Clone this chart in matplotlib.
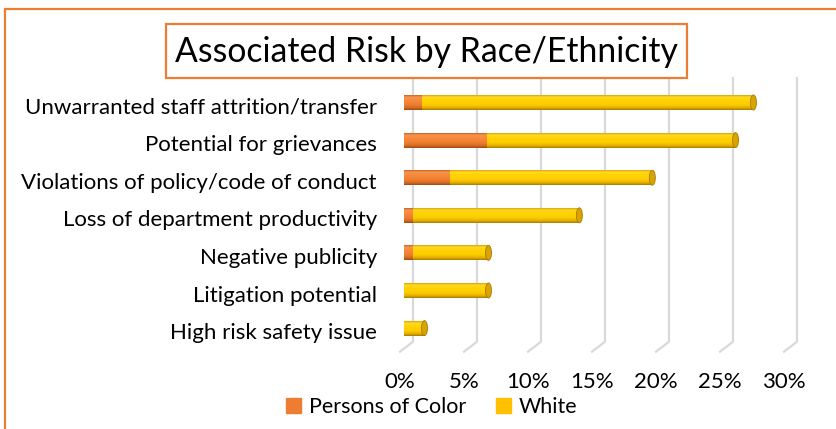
import numpy as np
import matplotlib.pyplot as plt
from matplotlib.patches import Rectangle, Ellipse
from matplotlib.colors import to_rgb

plt.rcParams['font.family'] = ['Lato', 'DejaVu Sans']

categories = [
    'Unwarranted staff attrition/transfer',
    'Potential for grievances',
    'Violations of policy/code of conduct',
    'Loss of department productivity',
    'Negative publicity',
    'Litigation potential',
    'High risk safety issue',
]
persons_of_color = [1.4, 6.5, 3.6, 0.7, 0.7, 0.0, 0.0]
white = [25.9, 19.4, 15.8, 13.0, 5.9, 6.6, 1.6]
ticks = [0, 5, 10, 15, 20, 25, 30]
tick_labels = ['0%', '5%', '10%', '15%', '20%', '25%', '30%']
series_names = ['Persons of Color', 'White']
title = 'Associated Risk by Race/Ethnicity'

ORANGE = '#ED7D31'
GOLD = '#FFC000'
GRID = '#D9D9D9'

# colour stops (top -> bottom) used to shade the cylinders
shade = {
    'orange': [(0.0, '#C96020'), (0.12, '#F8934A'), (0.35, '#F68A3C'),
               (0.65, '#EE7E30'), (0.85, '#D66A22'), (1.0, '#9A4A14')],
    'gold': [(0.0, '#D9A400'), (0.12, '#FFD62A'), (0.35, '#FFD400'),
             (0.65, '#FCCB00'), (0.85, '#E5AE00'), (1.0, '#A67C00')],
}

W, H = 837, 429
fig = plt.figure(figsize=(W / 100, H / 100), dpi=100)


def fx(px):
    return px / W


def fy(py):
    return 1 - py / H


# plot area: 0% sits at x=404px, 30% at 788px
PX_X = 12.8    # pixels per percent
PX_Y = 37.6    # pixels per category
ROW0 = 102.5   # pixel row of the first bar
top_px, bot_px = 78, 352
ax = fig.add_axes([fx(404), fy(bot_px), fx(788) - fx(404), fy(top_px) - fy(bot_px)])
ax.axis('off')


def gradient(stops, n=64):
    pos = [p for p, _ in stops]
    cols = np.array([to_rgb(c) for _, c in stops])
    t = np.linspace(0, 1, n)
    img = np.stack([np.interp(t, pos, cols[:, k]) for k in range(3)], axis=1)
    return img[:, None, :]


# vertical gridlines on the back wall, with the floor edge slanting to the front
back, front = 9 / PX_X, -4 / PX_X
wall_bottom = (341.7 - ROW0) / PX_Y
floor_front = wall_bottom + 10 / PX_Y
for t, lab in zip(ticks, tick_labels):
    ax.plot([t + back, t + back, t + front],
            [(top_px - ROW0) / PX_Y, wall_bottom, floor_front],
            color=GRID, lw=1.6, clip_on=False, zorder=1)
    ax.text(t + front, (382 - ROW0) / PX_Y, lab,
            ha='center', va='center', fontsize=16, clip_on=False)

bar_h = 15 / PX_Y
cap_w = 6 / PX_X
for i, cat in enumerate(categories):
    segs = [(0.0, persons_of_color[i], 'orange'),
            (persons_of_color[i], persons_of_color[i] + white[i], 'gold')]
    segs = [s for s in segs if s[1] > s[0]]
    y0, y1 = i - bar_h / 2, i + bar_h / 2
    # rounded left end of the cylinder
    left = Ellipse((0, i), cap_w, bar_h, facecolor='none', edgecolor='none')
    ax.add_patch(left)
    im = ax.imshow(gradient(shade[segs[0][2]]), extent=(-cap_w / 2, 0.01, y1, y0),
                   aspect='auto', zorder=3, interpolation='bilinear')
    im.set_clip_path(left)
    for a, b, key in segs:
        rect = Rectangle((a, y0), b - a, bar_h, facecolor='none', edgecolor='none')
        ax.add_patch(rect)
        im = ax.imshow(gradient(shade[key]), extent=(a, b, y1, y0),
                       aspect='auto', zorder=3, interpolation='bilinear')
        im.set_clip_path(rect)
    # right end cap
    end = segs[-1][1]
    cap_col = '#D9A300' if segs[-1][2] == 'gold' else '#D4692A'
    edge_col = '#A67C00' if segs[-1][2] == 'gold' else '#9A4A14'
    ax.add_patch(Ellipse((end, i), cap_w, bar_h, facecolor=cap_col,
                         edgecolor=edge_col, lw=0.6, zorder=4))
    ax.text((377 - 404) / PX_X, i + 5 / PX_Y, cat, ha='right', va='center',
            fontsize=16, clip_on=False)

ax.set_xlim(0, 30)
ax.set_ylim((bot_px - ROW0) / PX_Y, (top_px - ROW0) / PX_Y)

# legend
handles = [Rectangle((0, 0), 1, 1, color=ORANGE), Rectangle((0, 0), 1, 1, color=GOLD)]
fig.legend(handles, series_names, loc='center', bbox_to_anchor=(fx(432), fy(407)),
           ncol=2, frameon=False, fontsize=15.5, handlelength=0.7, handleheight=0.7,
           handletextpad=0.35, columnspacing=1.4, borderpad=0, borderaxespad=0)

# title with its box
fig.patches.append(Rectangle((fx(166), fy(78)), fx(687) - fx(166), fy(24) - fy(78),
                             transform=fig.transFigure, facecolor='none',
                             edgecolor=ORANGE, lw=1.6))
fig.text(fx(426), fy(52), title, ha='center', va='center', fontsize=24.3)

# outer chart border (runs off the right and bottom edges)
fig.patches.append(Rectangle((fx(5), fy(440)), 2, fy(9) - fy(440),
                             transform=fig.transFigure, facecolor='none',
                             edgecolor=ORANGE, lw=1.6))

fig.savefig('out.png', dpi=100)
